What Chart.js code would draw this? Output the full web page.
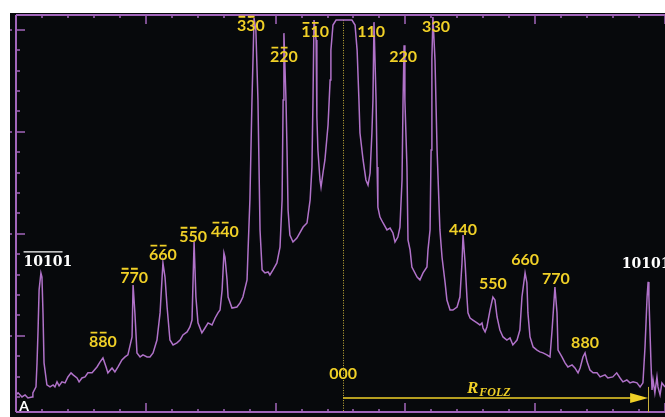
<!DOCTYPE html>
<html>
<head>
<meta charset="utf-8">
<script src="https://cdn.jsdelivr.net/npm/chart.js@4.4.0/dist/chart.umd.min.js"></script>
<style>
    html, body { margin: 0; padding: 0; background: #fff; }
    #wrap { width: 665px; height: 417px; }
</style>
</head>
<body>
<div id="wrap"><canvas id="profile" width="665" height="417"></canvas></div>
<script>
// line profile across the pattern: position and intensity, both in axis tick units
const position = [
    0.00, 0.08, 0.23, 0.35, 0.46, 0.62, 0.65, 0.77, 0.81, 0.85, 0.89, 0.96, 1.00, 1.04, 1.08, 1.19,
    1.31, 1.43, 1.50, 1.58, 1.66, 1.77, 1.89, 2.00, 2.12, 2.20, 2.35, 2.43, 2.54, 2.66, 2.77, 2.93,
    3.12, 3.24, 3.35, 3.47, 3.54, 3.70, 3.81, 3.93, 4.08, 4.20, 4.31, 4.47, 4.51, 4.58, 4.66, 4.78,
    4.89, 5.05, 5.16, 5.28, 5.43, 5.55, 5.66, 5.74, 5.82, 5.93, 6.05, 6.20, 6.32, 6.43, 6.59, 6.70,
    6.78, 6.86, 6.93, 7.01, 7.16, 7.28, 7.40, 7.55, 7.67, 7.78, 7.86, 7.94, 8.01, 8.05, 8.13, 8.17,
    8.32, 8.51, 8.63, 8.74, 8.90, 8.94, 9.01, 9.09, 9.17, 9.24, 9.32, 9.40, 9.48, 9.59, 9.71, 9.78,
    9.90, 10.05, 10.17, 10.25, 10.29, 10.32, 10.40, 10.44, 10.48, 10.55, 10.67, 10.82, 11.06, 11.21, 11.33, 11.40,
    11.44, 11.48, 11.56, 11.59, 11.63, 11.71, 11.75, 11.83, 11.90, 12.02, 12.10, 12.13, 12.21, 12.33, 12.94, 13.06,
    13.14, 13.21, 13.25, 13.37, 13.48, 13.56, 13.64, 13.71, 13.75, 13.79, 13.87, 13.91, 13.94, 14.02, 14.14, 14.29,
    14.41, 14.52, 14.60, 14.71, 14.79, 14.87, 14.91, 14.95, 14.98, 15.06, 15.10, 15.18, 15.25, 15.45, 15.56, 15.68,
    15.83, 15.87, 15.95, 15.99, 16.02, 16.06, 16.14, 16.22, 16.33, 16.41, 16.53, 16.60, 16.72, 16.83, 16.99, 17.10,
    17.18, 17.22, 17.30, 17.37, 17.41, 17.49, 17.60, 17.76, 17.87, 17.95, 17.99, 18.07, 18.14, 18.26, 18.37, 18.45,
    18.53, 18.64, 18.76, 18.91, 19.03, 19.14, 19.30, 19.41, 19.49, 19.61, 19.68, 19.72, 19.80, 19.92, 20.07, 20.18,
    20.30, 20.45, 20.57, 20.65, 20.76, 20.84, 20.88, 21.03, 21.15, 21.26, 21.42, 21.53, 21.65, 21.73, 21.84, 21.92,
    22.00, 22.11, 22.23, 22.38, 22.50, 22.69, 22.80, 22.99, 23.14, 23.27, 23.38, 23.53, 23.65, 23.77, 23.92, 24.04,
    24.15, 24.23, 24.31, 24.35, 24.38, 24.46, 24.50, 24.54, 24.61, 24.69, 24.73, 24.81, 24.88, 25.00
];
const intensity = [
    0.10, 0.20, 0.00, 0.10, -0.05, 0.00, 0.20, 0.49, 1.67, 3.28, 5.25, 6.08, 5.88, 4.12, 1.67, 0.59,
    0.49, 0.59, 0.49, 0.74, 0.54, 0.74, 0.69, 0.98, 1.18, 1.08, 0.93, 0.74, 0.93, 0.98, 1.18, 1.18,
    1.47, 1.72, 1.91, 1.47, 1.18, 1.42, 1.23, 1.47, 1.81, 1.96, 2.06, 2.94, 5.49, 4.12, 2.16, 1.96,
    2.06, 1.96, 1.96, 2.16, 2.79, 4.12, 6.57, 5.88, 4.41, 2.79, 2.55, 2.65, 2.79, 3.04, 3.19, 3.43,
    3.77, 7.60, 4.90, 3.63, 3.14, 3.38, 3.63, 3.53, 3.87, 4.12, 4.26, 5.25, 7.06, 6.86, 5.74, 4.90,
    4.36, 4.41, 4.61, 4.90, 5.74, 7.21, 9.66, 14.56, 18.58, 17.99, 14.56, 8.19, 6.23, 6.08, 6.13, 5.98,
    6.23, 6.57, 7.35, 9.66, 14.56, 17.84, 14.56, 12.11, 9.17, 7.94, 7.60, 7.79, 8.33, 8.53, 9.66, 11.27,
    14.56, 18.48, 17.50, 13.73, 12.11, 10.64, 10.29, 11.03, 11.62, 13.33, 15.54, 17.01, 18.24, 18.48, 18.48, 18.24,
    17.01, 14.56, 12.94, 11.62, 10.64, 10.39, 10.98, 12.94, 14.56, 18.38, 14.56, 11.27, 9.31, 8.82, 8.53, 8.19,
    8.28, 8.04, 7.60, 7.84, 8.33, 10.64, 14.56, 17.25, 14.56, 11.27, 7.70, 7.21, 6.37, 5.88, 5.74, 6.08,
    6.37, 7.21, 8.19, 12.11, 16.52, 18.63, 16.52, 12.11, 8.19, 6.86, 5.59, 4.75, 4.26, 4.26, 4.41, 4.90,
    6.57, 7.94, 6.57, 4.90, 4.12, 3.87, 3.77, 3.63, 3.53, 3.63, 3.38, 3.19, 3.43, 4.26, 4.90, 4.75,
    3.92, 3.28, 2.94, 2.79, 2.89, 2.55, 2.79, 3.28, 4.90, 6.08, 5.59, 4.12, 2.94, 2.45, 2.30, 2.21,
    2.16, 2.06, 1.96, 3.28, 5.39, 4.12, 2.30, 1.96, 1.67, 1.47, 1.57, 1.42, 1.18, 1.42, 1.96, 2.16,
    1.72, 1.32, 1.18, 1.18, 0.98, 1.08, 0.93, 0.98, 1.18, 0.93, 0.74, 0.83, 0.69, 0.74, 0.69, 0.49,
    0.69, 2.45, 4.90, 5.64, 4.90, 1.67, 0.34, 0.83, 0.20, 0.98, 0.49, 0.10, 0.69, 0.49
];

// reflection labels, anchored at the centre of their digits (data units)
const reflections = ["10101", "880", "770", "660", "550", "440", "330", "220", "110",
                     "110", "220", "330", "440", "550", "660", "770", "880", "10101", "000"];
const reflectionX = [1.23, 3.35, 4.55, 5.66, 6.82, 8.05, 9.05, 10.32, 11.52,
                     13.68, 14.91, 16.18, 17.22, 18.37, 19.61, 20.80, 21.92, 24.27, 12.60];
const reflectionY = [6.67, 2.75, 5.88, 7.01, 7.89, 8.14, 18.24, 16.72, 17.94,
                     17.94, 16.72, 18.19, 8.24, 5.59, 6.76, 5.83, 2.70, 6.57, 1.18];
// how many leading digits carry a bar (negative indices)
const barred = [4, 2, 2, 2, 2, 2, 2, 2, 2, 0, 0, 0, 0, 0, 0, 0, 0, 0, 0];
const isFolz = [true, false, false, false, false, false, false, false, false,
                false, false, false, false, false, false, false, false, true, false];

// direct beam and first FOLZ ring position
const centreX = 12.6;
const beamTop = 18.48;
const folzX = 24.35;
const arrowY = -0.05;

const purple = "#a266bb";
const trace = "#b072c9";
const yellow = "#f0d027";

const points = position.map((x, i) => ({ x: x, y: intensity[i] }));

function drawLabel(ctx, text, cx, cy, folz, bars) {
    ctx.save();
    const size = folz ? 14 : 16;
    ctx.font = folz ? "bold 14px 'DejaVu Serif'" : "bold 16px Lato";
    ctx.fillStyle = folz ? "#ffffff" : yellow;
    ctx.strokeStyle = ctx.fillStyle;
    ctx.textBaseline = "alphabetic";
    const half = size * (folz ? 0.365 : 0.36);
    const w = ctx.measureText(text).width;
    const x0 = cx - w / 2;
    ctx.fillText(text, x0, cy + half);
    if (bars > 0) {
        ctx.lineWidth = folz ? 1.3 : 1.8;
        const barY = cy - half - (folz ? 4 : 2.5);
        let x = x0;
        ctx.beginPath();
        if (folz) {
            const bw = ctx.measureText(text.slice(0, bars)).width;
            ctx.moveTo(x0, barY);
            ctx.lineTo(x0 + bw, barY);
        } else {
            for (let i = 0; i < bars; i++) {
                const cw = ctx.measureText(text[i]).width;
                ctx.moveTo(x + 1.5, barY);
                ctx.lineTo(x + cw - 1, barY);
                x += cw;
            }
        }
        ctx.stroke();
    }
    ctx.restore();
}

const decorations = {
    id: "decorations",
    beforeDraw(chart) {
        const { ctx, chartArea } = chart;
        ctx.save();
        ctx.fillStyle = "#ffffff";
        ctx.fillRect(0, 0, chart.width, chart.height);
        ctx.fillStyle = "#07090c";
        ctx.fillRect(chartArea.left - 6, chartArea.top - 2, chart.width, chart.height);
        ctx.restore();
    },
    beforeDatasetsDraw(chart) {
        const { ctx, chartArea, scales } = chart;
        const cx = Math.round(scales.x.getPixelForValue(centreX)) + 0.5;
        ctx.save();
        ctx.strokeStyle = "#c9b13a";
        ctx.lineWidth = 1;
        ctx.setLineDash([1, 1.5]);
        ctx.beginPath();
        ctx.moveTo(cx, scales.y.getPixelForValue(beamTop));
        ctx.lineTo(cx, chartArea.bottom);
        ctx.stroke();
        ctx.restore();
    },
    afterDatasetsDraw(chart) {
        const { ctx, chartArea, scales } = chart;
        const xs = scales.x, ys = scales.y;
        ctx.save();

        // frame and inward ticks
        ctx.strokeStyle = purple;
        ctx.lineWidth = 2;
        ctx.beginPath();
        ctx.moveTo(chartArea.left, chartArea.top);
        ctx.lineTo(chartArea.right, chartArea.top);
        ctx.moveTo(chartArea.left, chartArea.top);
        ctx.lineTo(chartArea.left, chartArea.bottom);
        ctx.moveTo(chartArea.left, chartArea.bottom);
        ctx.lineTo(chartArea.right, chartArea.bottom);
        ctx.stroke();

        ctx.lineWidth = 1.5;
        ctx.beginPath();
        for (let i = 0; i <= 25; i++) {
            const px = Math.round(xs.getPixelForValue(i));
            const len = i % 5 === 0 ? 9 : 3;
            ctx.moveTo(px, chartArea.top);
            ctx.lineTo(px, chartArea.top + len);
            ctx.moveTo(px, chartArea.bottom);
            ctx.lineTo(px, chartArea.bottom - len);
        }
        for (let i = 0; i <= 18; i++) {
            const py = Math.round(ys.getPixelForValue(i));
            const major = (i - 3) % 5 === 0;
            ctx.moveTo(chartArea.left, py);
            ctx.lineTo(chartArea.left + (major ? 9 : 4), py);
            if (major) {
                ctx.moveTo(chartArea.left - 6, py);
                ctx.lineTo(chartArea.left - 4, py);
            }
        }
        ctx.stroke();

        // R_FOLZ arrow
        const x0 = xs.getPixelForValue(centreX);
        const x1 = xs.getPixelForValue(folzX);
        const ay = ys.getPixelForValue(arrowY);
        ctx.strokeStyle = yellow;
        ctx.fillStyle = yellow;
        ctx.lineWidth = 1.6;
        ctx.beginPath();
        ctx.moveTo(x0, ay);
        ctx.lineTo(x1 - 16, ay);
        ctx.stroke();
        ctx.beginPath();
        ctx.moveTo(x1 - 18, ay - 5);
        ctx.lineTo(x1, ay);
        ctx.lineTo(x1 - 18, ay + 5);
        ctx.closePath();
        ctx.fill();
        ctx.strokeStyle = "#c9b13a";
        ctx.lineWidth = 1;
        ctx.beginPath();
        ctx.moveTo(Math.round(x1) + 0.5, ys.getPixelForValue(0.49));
        ctx.lineTo(Math.round(x1) + 0.5, chartArea.bottom);
        ctx.stroke();

        // R_FOLZ text
        const rx = xs.getPixelForValue(17.37);
        const ry = ys.getPixelForValue(0.2);
        ctx.font = "bold italic 17px 'Liberation Serif'";
        ctx.textBaseline = "alphabetic";
        ctx.fillText("R", rx, ry);
        const rw = ctx.measureText("R").width;
        ctx.font = "bold italic 12px 'Liberation Serif'";
        ctx.fillText("FOLZ", rx + rw + 1, ry + 3);

        // panel letter
        ctx.fillStyle = "#ffffff";
        ctx.font = "bold 14px Lato";
        ctx.textAlign = "center";
        ctx.fillText("A", xs.getPixelForValue(0.31), ys.getPixelForValue(-0.47) + 5);
        ctx.restore();

        reflections.forEach((t, i) => {
            drawLabel(ctx, t, xs.getPixelForValue(reflectionX[i]), ys.getPixelForValue(reflectionY[i]),
                isFolz[i], barred[i]);
        });
    }
};

new Chart(document.getElementById("profile"), {
    type: "line",
    data: {
        datasets: [{
            data: points,
            borderColor: trace,
            borderWidth: 1.5,
            pointRadius: 0,
            tension: 0,
            fill: false
        }]
    },
    options: {
        responsive: false,
        animation: false,
        devicePixelRatio: 1,
        layout: { padding: { left: 16, top: 15, right: 0, bottom: 5 } },
        plugins: { legend: { display: false }, tooltip: { enabled: false } },
        scales: {
            x: { type: "linear", min: 0, max: 25, display: false },
            y: { type: "linear", min: -0.74, max: 18.73, display: false }
        }
    },
    plugins: [decorations]
});
</script>
</body>
</html>
